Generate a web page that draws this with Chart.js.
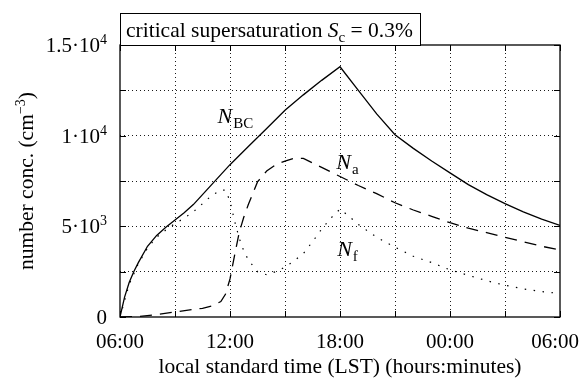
<!DOCTYPE html>
<html><head><meta charset="utf-8">
<script src="https://cdn.jsdelivr.net/npm/chart.js@4/dist/chart.umd.min.js"></script>
<style>html,body{margin:0;padding:0;background:#fff}canvas{display:block}</style>
</head><body>
<canvas id="c" width="580" height="380"></canvas>
<script>
// ---- data (hours after midnight of day 1; 30 = 06:00 next day) ----
const nbcHours  = [6,6.25,6.5,6.75,7,7.5,8,8.5,9,9.5,10,10.5,11,11.5,12,13,14,15,16,17,18,19,20,21,22,23,24,25,26,27,28,29,30];
const nbcValues = [0,1100,1900,2500,3000,3900,4500,4950,5350,5750,6200,6750,7300,7850,8400,9400,10400,11400,12250,13050,13800,12500,11200,10050,9300,8600,7950,7300,6750,6250,5800,5400,5050];

const naHours  = [6,7,8,9,10,10.5,11,11.5,11.75,12,12.25,12.5,12.75,13,13.5,14,14.5,15,15.5,16,16.5,17,18,19,20,21,22,23,24,25,26,27,28,29,30];
const naValues = [0,30,130,280,420,480,600,850,1250,2100,3400,4650,5500,6200,7450,8050,8400,8600,8750,8750,8500,8250,7750,7250,6800,6300,5900,5550,5200,4900,4650,4400,4150,3900,3700];

const nfHours  = [6,6.5,7,7.5,8,8.5,9,9.5,10,10.5,11,11.5,11.75,12,12.25,12.5,12.75,13,13.5,14,14.5,15,15.5,16,16.5,17,17.5,18,18.5,19,19.5,20,21,22,23,24,25,26,27,28,29,30];
const nfValues = [0,1800,2950,3800,4400,4800,5150,5450,5800,6250,6700,7000,7000,6400,5300,4350,3650,3150,2500,2330,2500,2750,3100,3500,4150,4850,5450,5950,5550,5100,4750,4400,3850,3350,3000,2600,2300,2000,1750,1550,1400,1300];

const xTickHours = [6,12,18,24,30];
const xTickText  = ['06:00','12:00','18:00','00:00','06:00'];
const yTickValues = [0,5000,10000,15000];
const yTickBase   = ['0','5·10','1·10','1.5·10'];
const yTickExp    = ['','3','4','4'];

const xTitle = 'local standard time (LST) (hours:minutes)';
const yTitleParts = ['number conc. (cm', '−3', ')'];
const seriesSymbols = [['N','BC'],['N','a'],['N','f']];
const labelAnchors = [[12.27,11030],[18.38,8490],[18.38,3700]]; // in data units

const FONT = "'Liberation Serif', 'Times New Roman', serif";

function pairs(xs, ys){ return xs.map((x,i)=>({x:x, y:ys[i]})); }

const decor = {
  id:'decor',
  afterDraw(chart){
    const ctx = chart.ctx, a = chart.chartArea;
    const xs = chart.scales.x, ys = chart.scales.y;
    ctx.save();
    ctx.strokeStyle = '#000'; ctx.fillStyle = '#000';
    // plot border
    ctx.lineWidth = 1.3; ctx.setLineDash([]);
    ctx.strokeRect(a.left, a.top, a.right-a.left, a.bottom-a.top);
    // inward ticks
    ctx.lineWidth = 1;
    ctx.beginPath();
    for (let h=6; h<=30; h+=3){
      const px = Math.round(xs.getPixelForValue(h))+0.5;
      ctx.moveTo(px, a.bottom); ctx.lineTo(px, a.bottom-6);
      ctx.moveTo(px, a.top); ctx.lineTo(px, a.top+6);
    }
    for (let v=0; v<=15000; v+=2500){
      const py = Math.round(ys.getPixelForValue(v))+0.5;
      ctx.moveTo(a.left, py); ctx.lineTo(a.left+6, py);
      ctx.moveTo(a.right, py); ctx.lineTo(a.right-6, py);
    }
    ctx.stroke();
    // title box
    ctx.lineWidth = 1;
    ctx.fillStyle = '#fff';
    ctx.fillRect(a.left, 13, 300, a.top-13);
    ctx.strokeRect(a.left+0.5, 13.5, 300, a.top-13);
    ctx.fillStyle = '#000';
    ctx.textBaseline = 'alphabetic'; ctx.textAlign = 'left';
    let x = a.left + 6, y = 37;
    ctx.font = '21.5px ' + FONT;
    ctx.fillText('critical supersaturation ', x, y); x += ctx.measureText('critical supersaturation ').width;
    ctx.font = 'italic 21.5px ' + FONT;
    ctx.fillText('S', x, y); x += ctx.measureText('S').width;
    ctx.font = '15px ' + FONT;
    ctx.fillText('c', x, y+5); x += ctx.measureText('c').width;
    ctx.font = '21.5px ' + FONT;
    ctx.fillText(' = 0.3%', x, y);
    // curve labels
    seriesSymbols.forEach((s,i)=>{
      const cx = xs.getPixelForValue(labelAnchors[i][0]);
      const cy = ys.getPixelForValue(labelAnchors[i][1]);
      ctx.font = 'italic 22px ' + FONT;
      const w1 = ctx.measureText(s[0]).width;
      ctx.font = '15px ' + FONT;
      const w2 = ctx.measureText(s[1]).width;
      let lx = cx - (w1+w2)/2;
      ctx.font = 'italic 22px ' + FONT;
      ctx.fillText(s[0], lx, cy+6);
      ctx.font = '15px ' + FONT;
      ctx.fillText(s[1], lx+w1+1, cy+11);
    });
    // y tick labels with superscripts
    yTickValues.forEach((v,i)=>{
      const py = ys.getPixelForValue(v);
      ctx.font = '14px ' + FONT;
      const we = yTickExp[i] ? ctx.measureText(yTickExp[i]).width : 0;
      const right = a.left - 13;
      ctx.textAlign = 'right';
      if (yTickExp[i]) ctx.fillText(yTickExp[i], right, py - 1);
      ctx.font = '21px ' + FONT;
      ctx.fillText(yTickBase[i], right - we, py + 7);
    });
    // x tick labels
    ctx.font = '21px ' + FONT;
    ctx.textAlign = 'left';
    xTickHours.forEach((h,i)=>{
      const w = ctx.measureText(xTickText[i]).width;
      let cx = xs.getPixelForValue(h);
      cx = Math.min(cx, chart.width - 1 - w/2);
      ctx.fillText(xTickText[i], cx - w/2, 348);
    });
    // axis titles
    ctx.font = '21.5px ' + FONT;
    ctx.textAlign = 'center'; ctx.textBaseline = 'middle';
    ctx.fillText(xTitle, (a.left+a.right)/2, 367);
    ctx.save();
    ctx.translate(26, (a.top+a.bottom)/2);
    ctx.rotate(-Math.PI/2);
    ctx.textAlign = 'left'; ctx.textBaseline = 'alphabetic';
    ctx.font = '21.5px ' + FONT;
    const t0 = ctx.measureText(yTitleParts[0]).width;
    const t2 = ctx.measureText(yTitleParts[2]).width;
    ctx.font = '14px ' + FONT;
    const t1 = ctx.measureText(yTitleParts[1]).width;
    let tx = -(t0+t1+t2)/2;
    ctx.font = '21.5px ' + FONT;
    ctx.fillText(yTitleParts[0], tx, 7); tx += t0;
    ctx.font = '14px ' + FONT;
    ctx.fillText(yTitleParts[1], tx, -1); tx += t1;
    ctx.font = '21.5px ' + FONT;
    ctx.fillText(yTitleParts[2], tx, 7);
    ctx.restore();
    ctx.restore();
  }
};

const gridColor = (c) => {
  const v = c.tick ? c.tick.value : null;
  return (v===6 || v===30 || v===0 || v===15000) ? 'rgba(0,0,0,0)' : '#000';
};

new Chart(document.getElementById('c'), {
  type:'line',
  data:{ datasets:[
    {label:'N_BC', data:pairs(nbcHours,nbcValues), borderColor:'#000', borderWidth:1.3, pointRadius:0, tension:0, fill:false},
    {label:'N_a', data:pairs(naHours,naValues), borderColor:'#000', borderWidth:1.3, borderDash:[12,8], pointRadius:0, tension:0, fill:false},
    {label:'N_f', data:pairs(nfHours,nfValues), borderColor:'#000', borderWidth:1.2, borderDash:[1.5,7.5], pointRadius:0, tension:0, fill:false}
  ]},
  options:{
    responsive:false, devicePixelRatio:1, animation:false,
    layout:{padding:{top:45, right:20, left:0, bottom:0}},
    plugins:{legend:{display:false}, tooltip:{enabled:false}},
    scales:{
      x:{
        type:'linear', min:6, max:30,
        afterFit(s){ s.height = 63; s.paddingLeft = 0; s.paddingRight = 0; },
        grid:{color:gridColor, lineWidth:0.9, drawTicks:false},
        border:{display:false, dash:[1,3]},
        ticks:{stepSize:3, autoSkip:false, maxRotation:0, padding:12, color:'#000',
          font:{family:FONT, size:21},
          callback(){ return ''; }}
      },
      y:{
        type:'linear', min:0, max:15000,
        afterFit(s){ s.width = 120; },
        grid:{color:gridColor, lineWidth:0.9, drawTicks:false},
        border:{display:false, dash:[1,3]},
        ticks:{stepSize:2500, autoSkip:false, padding:13, color:'#000',
          font:{family:FONT, size:21},
          callback(){ return ''; }}
      }
    }
  },
  plugins:[decor]
});
</script>
</body></html>
